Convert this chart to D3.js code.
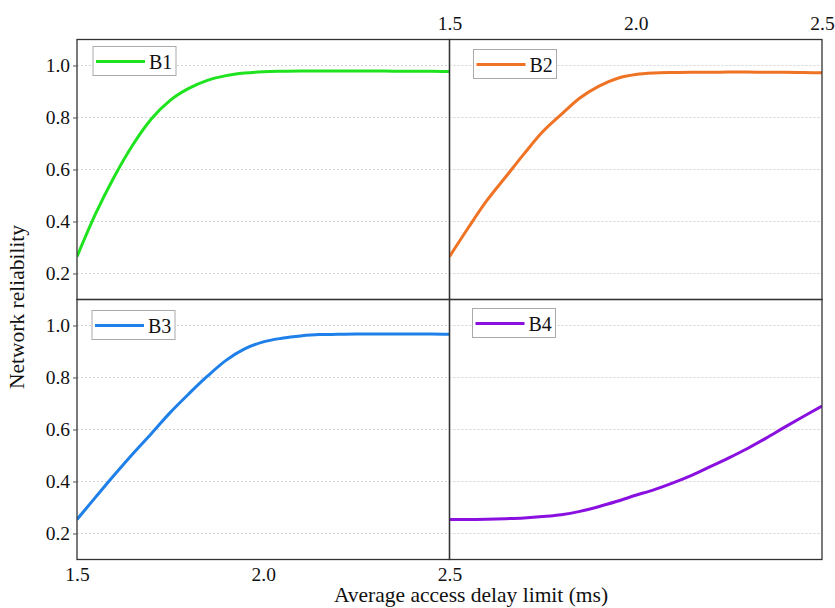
<!DOCTYPE html>
<html>
<head>
<meta charset="utf-8">
<script src="https://cdn.jsdelivr.net/npm/d3@7"></script>
<style>
  html, body { margin: 0; padding: 0; background: #fff; }
  svg { display: block; }
  svg text { font-family: "Liberation Serif", "Times New Roman", Times, "DejaVu Serif", serif !important; fill: #111; }
</style>
</head>
<body>
<svg id="chart" width="835" height="608"></svg>
<script>
// ---------- data ----------
const xValues = [1.5, 1.55, 1.6, 1.65, 1.7, 1.75, 1.8, 1.85, 1.9, 1.95, 2.0, 2.05, 2.1, 2.15, 2.2, 2.25, 2.3, 2.35, 2.4, 2.45, 2.5];
const seriesNames = ["B1", "B2", "B3", "B4"];
const b1 = [0.265, 0.43, 0.572, 0.695, 0.795, 0.866, 0.912, 0.943, 0.961, 0.971, 0.976, 0.978, 0.979, 0.979, 0.979, 0.979, 0.979, 0.978, 0.978, 0.978, 0.977];
const b2 = [0.265, 0.375, 0.48, 0.57, 0.66, 0.745, 0.812, 0.875, 0.92, 0.95, 0.965, 0.971, 0.973, 0.974, 0.974, 0.975, 0.975, 0.974, 0.974, 0.973, 0.972];
const b3 = [0.254, 0.34, 0.425, 0.507, 0.585, 0.665, 0.737, 0.805, 0.866, 0.91, 0.937, 0.951, 0.96, 0.965, 0.966, 0.967, 0.967, 0.967, 0.967, 0.967, 0.966];
const b4 = [0.254, 0.254, 0.255, 0.257, 0.26, 0.265, 0.272, 0.285, 0.303, 0.324, 0.347, 0.369, 0.395, 0.424, 0.457, 0.491, 0.527, 0.567, 0.609, 0.65, 0.69];
const seriesValues = [b1, b2, b3, b4];
const seriesColors = ["#1ee31e", "#ef7324", "#1e80e8", "#8a10e0"];
const xTicks = [1.5, 2.0, 2.5];
const yTicks = [0.2, 0.4, 0.6, 0.8, 1.0];
const xDomain = [1.5, 2.5];
const yDomain = [0.1, 1.1];
const xTitle = "Average access delay limit (ms)";
const yTitle = "Network reliability";

// ---------- layout ----------
const svg = d3.select("#chart");
const plotLeft = 77, plotTop = 39.5, pw = 372.5, ph = 260;
const panels = [
  { col: 0, row: 0, legendDx: 16, legendDy: 7 },
  { col: 1, row: 0, legendDx: 24, legendDy: 10 },
  { col: 0, row: 1, legendDx: 15, legendDy: 11 },
  { col: 1, row: 1, legendDx: 23, legendDy: 9 }
];
const fontSize = 19.5;
const fontFam = '"Liberation Serif", "Times New Roman", Times, "DejaVu Serif", serif';

panels.forEach((p, i) => {
  const ox = plotLeft + p.col * pw, oy = plotTop + p.row * ph;
  const x = d3.scaleLinear().domain(xDomain).range([ox, ox + pw]);
  const y = d3.scaleLinear().domain(yDomain).range([oy + ph, oy]);
  const g = svg.append("g");

  const cid = "clip" + i;
  svg.append("clipPath").attr("id", cid)
    .append("rect").attr("x", ox).attr("y", oy).attr("width", pw).attr("height", ph);

  g.selectAll("line.grid").data(yTicks).join("line")
    .attr("class", "grid")
    .attr("x1", ox).attr("x2", ox + pw)
    .attr("y1", d => y(d)).attr("y2", d => y(d))
    .attr("stroke", "#c8c8c8").attr("stroke-width", 0.8)
    .attr("stroke-dasharray", "2,2");

  const line = d3.line()
    .x((d, j) => x(xValues[j]))
    .y(d => y(d))
    .curve(d3.curveMonotoneX);
  g.append("path")
    .attr("clip-path", `url(#${cid})`)
    .attr("d", line(seriesValues[i]))
    .attr("fill", "none")
    .attr("stroke", seriesColors[i])
    .attr("stroke-width", 3)
    .attr("stroke-linejoin", "round");

  g.append("rect")
    .attr("x", ox).attr("y", oy).attr("width", pw).attr("height", ph)
    .attr("fill", "none").attr("stroke", "#333").attr("stroke-width", 1.3);

  if (p.col === 0) {
    const ax = svg.append("g").attr("transform", `translate(${ox},0)`)
      .call(d3.axisLeft(y).tickValues(yTicks).tickFormat(d3.format(".1f")).tickSize(4).tickPadding(3));
    ax.attr("font-family", fontFam).attr("font-size", fontSize);
    ax.select(".domain").remove();
    ax.selectAll(".tick line").attr("stroke", "#555").attr("stroke-width", 1);
    ax.selectAll(".tick text").attr("fill", "#111");
  }
  if (p.row === 0 && p.col === 1) {
    const ax = svg.append("g").attr("transform", `translate(0,${oy})`)
      .call(d3.axisTop(x).tickValues(xTicks).tickFormat(d3.format(".1f")).tickSize(0).tickPadding(10));
    ax.attr("font-family", fontFam).attr("font-size", fontSize);
    ax.select(".domain").remove();
    ax.selectAll(".tick text").attr("fill", "#111");
  }
  if (p.row === 1 && p.col === 0) {
    const ax = svg.append("g").attr("transform", `translate(0,${oy + ph})`)
      .call(d3.axisBottom(x).tickValues(xTicks).tickFormat(d3.format(".1f")).tickSize(0).tickPadding(8));
    ax.attr("font-family", fontFam).attr("font-size", fontSize);
    ax.select(".domain").remove();
    ax.selectAll(".tick text").attr("fill", "#111");
  }

  const lx = ox + p.legendDx, ly = oy + p.legendDy;
  const lg = svg.append("g").attr("transform", `translate(${lx},${ly})`);
  lg.append("rect").attr("width", 83).attr("height", 29)
    .attr("fill", "#fff").attr("stroke", "#aaa").attr("stroke-width", 1);
  lg.append("line").attr("x1", 3).attr("x2", 52).attr("y1", 15).attr("y2", 15)
    .attr("stroke", seriesColors[i]).attr("stroke-width", 3);
  lg.append("text").attr("x", 56).attr("y", 22)
    .attr("font-family", fontFam).attr("font-size", 20).text(seriesNames[i]);
});

svg.append("text")
  .attr("x", 471).attr("y", 602)
  .attr("text-anchor", "middle").attr("font-family", fontFam).attr("font-size", 21.5)
  .text(xTitle);
svg.append("text")
  .attr("transform", "translate(24,307) rotate(-90)")
  .attr("text-anchor", "middle").attr("font-family", fontFam).attr("font-size", 21.5)
  .text(yTitle);
</script>
</body>
</html>
